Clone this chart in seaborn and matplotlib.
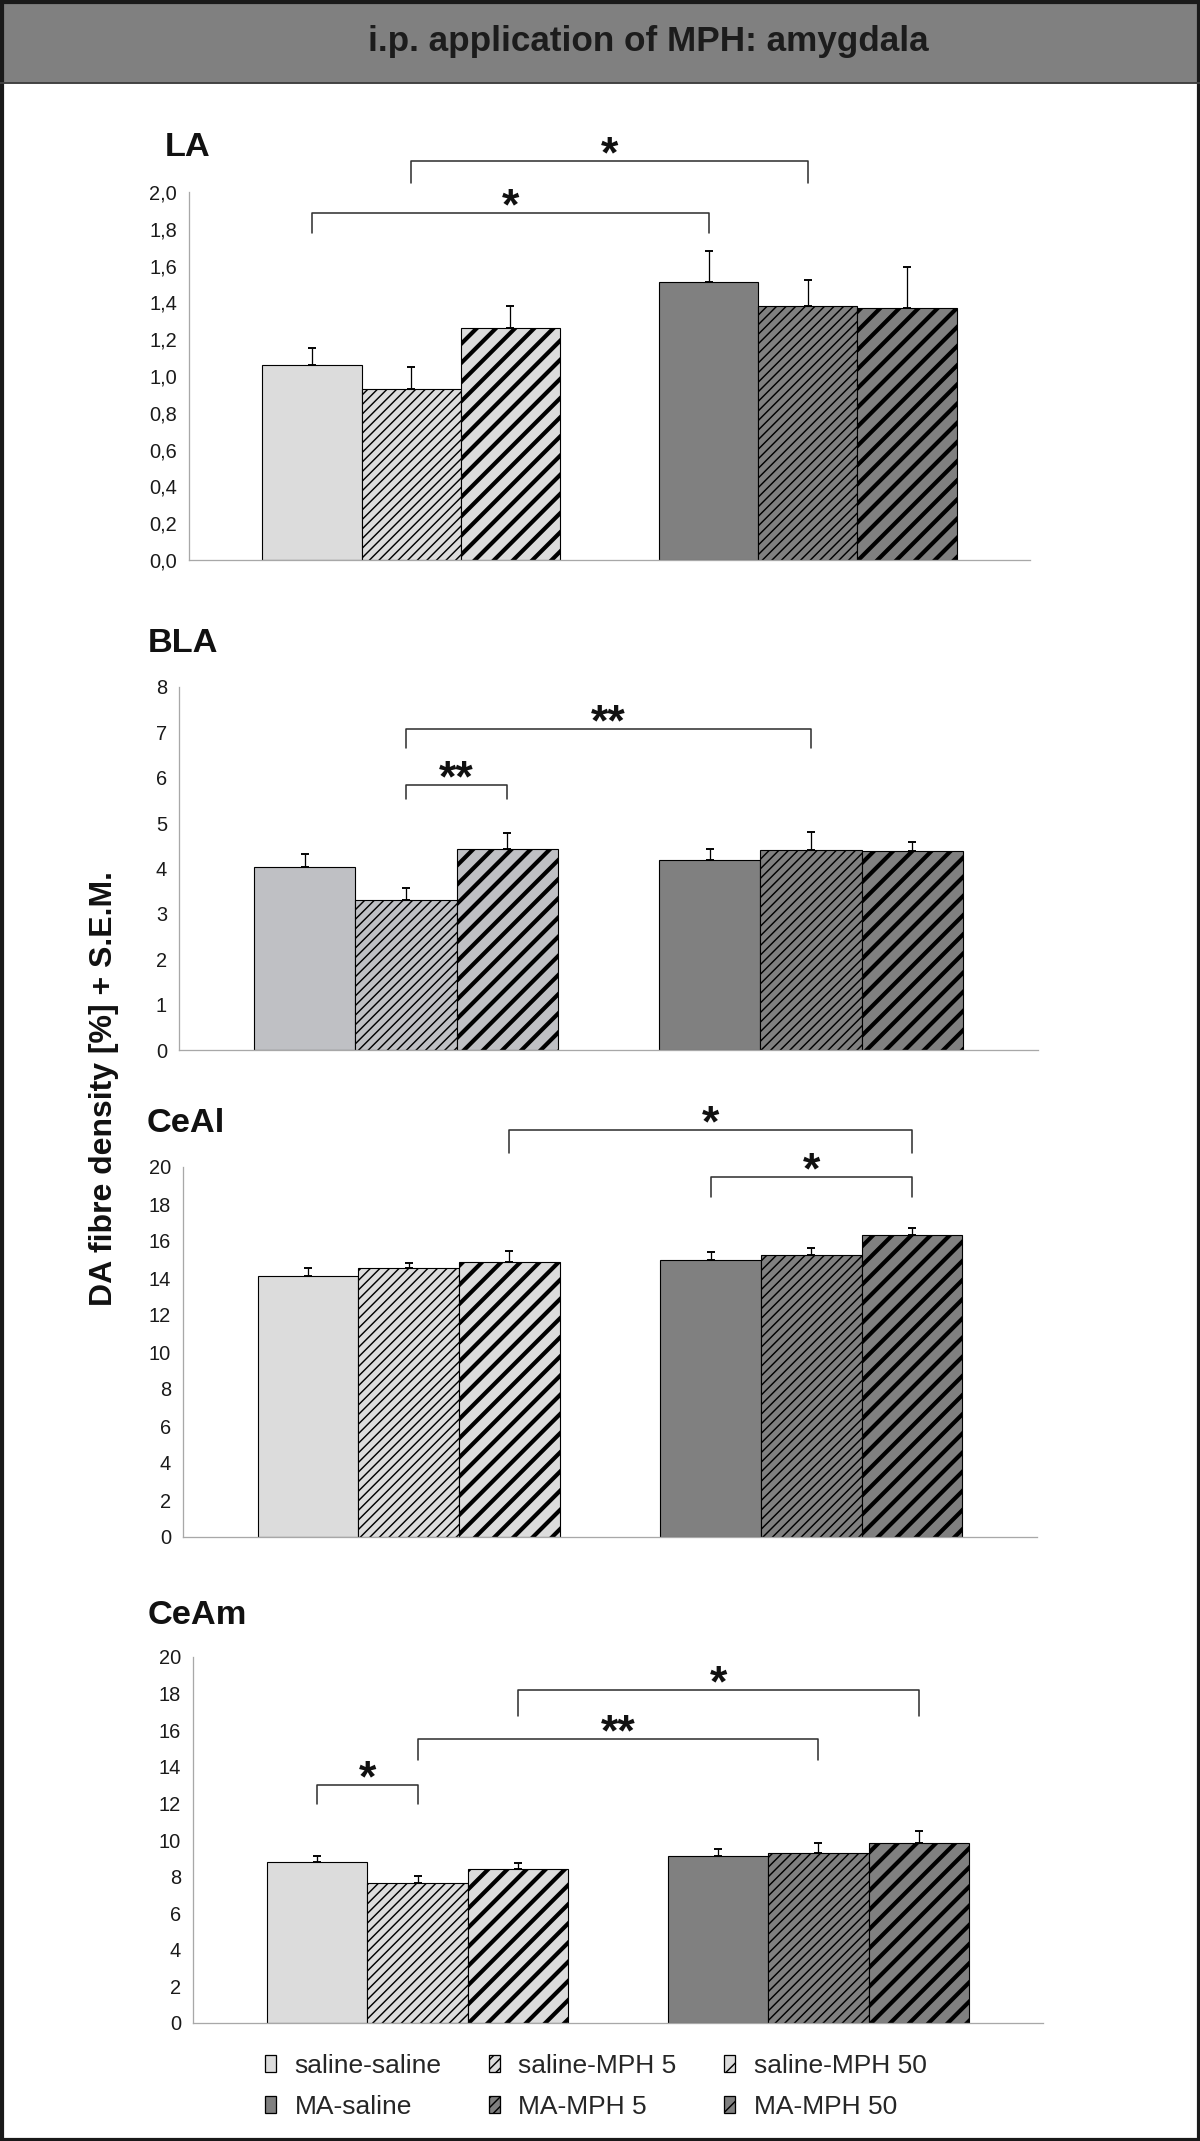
import numpy as np
import pandas as pd
import matplotlib
matplotlib.use('Agg')
import matplotlib.pyplot as plt
from matplotlib.patches import Patch, Rectangle
from matplotlib.lines import Line2D
import seaborn as sns

DPI = 115
W, H = 1200, 2141

# groups and legend
pretreat = ['saline', 'MA']
doses = ['saline', 'MPH 5', 'MPH 50']
legend_labels = ['saline-saline', 'saline-MPH 5', 'saline-MPH 50',
                 'MA-saline', 'MA-MPH 5', 'MA-MPH 50']

# bar order: saline-saline, saline-MPH 5, saline-MPH 50, MA-saline, MA-MPH 5, MA-MPH 50
la_mean = [1.06, 0.93, 1.26, 1.51, 1.38, 1.37]
la_sem = [0.09, 0.12, 0.12, 0.17, 0.14, 0.22]
bla_mean = [4.04, 3.30, 4.44, 4.18, 4.41, 4.38]
bla_sem = [0.27, 0.27, 0.35, 0.26, 0.40, 0.21]
ceal_mean = [14.13, 14.53, 14.87, 14.96, 15.22, 16.30]
ceal_sem = [0.42, 0.27, 0.58, 0.42, 0.39, 0.40]
ceam_mean = [8.82, 7.65, 8.40, 9.15, 9.31, 9.82]
ceam_sem = [0.33, 0.36, 0.33, 0.34, 0.50, 0.67]

la_ticks = [0.0, 0.2, 0.4, 0.6, 0.8, 1.0, 1.2, 1.4, 1.6, 1.8, 2.0]
la_ticklabels = ['0,0', '0,2', '0,4', '0,6', '0,8', '1,0', '1,2', '1,4', '1,6', '1,8', '2,0']
bla_ticks = [0, 1, 2, 3, 4, 5, 6, 7, 8]
ce_ticks = [0, 2, 4, 6, 8, 10, 12, 14, 16, 18, 20]

# significance brackets: (bar a, bar b, bracket level, leg end, stars)
la_sig = [(0, 3, 1.887, 1.779, '*'), (1, 4, 2.167, 2.047, '*')]
bla_sig = [(1, 2, 5.85, 5.54, '**'), (1, 4, 7.07, 6.66, '**')]
ceal_sig = [(3, 5, 19.46, 18.4, '*'), (2, 5, 21.99, 20.76, '*')]
ceam_sig = [(0, 1, 13.0, 11.95, '*'), (1, 4, 15.53, 14.36, '**'), (2, 5, 18.2, 16.8, '*')]

light = '#dcdcdc'
light_bla = '#bfc0c4'
dark = '#808080'
hatches = ['', '////', '//']
hatch_lw = [0.9, 0.9, 2.6]

sns.set_style('white')
plt.rcParams['font.family'] = ['Liberation Sans', 'DejaVu Sans']
plt.rcParams['hatch.linewidth'] = 0.9

fig = plt.figure(figsize=(W / DPI, H / DPI), dpi=DPI)


def px_rect(left, right, top, bottom):
    return [left / W, 1 - bottom / H, (right - left) / W, (bottom - top) / H]


def draw_panel(ax, mean, sem, ticks, ticklabels, sig, fill_light):
    df = pd.DataFrame({'pre': np.repeat(pretreat, 3), 'dose': doses * 2, 'value': mean})
    sns.barplot(data=df, x='pre', y='value', hue='dose', order=pretreat, hue_order=doses,
                errorbar=None, width=0.75, gap=0, legend=False, ax=ax)
    bars = sorted(ax.patches, key=lambda p: p.get_x())
    centers, tops = [], []
    for i, bar in enumerate(bars):
        g, h = divmod(i, 3)
        bar.set_facecolor(fill_light if g == 0 else dark)
        bar.set_edgecolor('black')
        bar.set_linewidth(0.7)
        bar.set_hatch(hatches[h])
        if hasattr(bar, 'set_hatch_linewidth'):
            bar.set_hatch_linewidth(hatch_lw[h])
        centers.append(bar.get_x() + bar.get_width() / 2)
        tops.append(bar.get_height())
    ax.errorbar(centers, tops, yerr=[np.zeros(len(sem)), sem], fmt='none',
                ecolor='black', elinewidth=0.8, capsize=2.4, capthick=1.2, zorder=5)

    for a, b, level, leg, stars in sig:
        xa, xb = centers[a], centers[b]
        ax.add_line(Line2D([xa, xa, xb, xb], [leg, level, level, leg],
                           color='#333333', lw=1.0, clip_on=False))
        ax.annotate(stars, xy=((xa + xb) / 2, level), xytext=(0, -4),
                    textcoords='offset points', ha='center', va='baseline',
                    fontsize=28, fontweight='bold', color='#111111',
                    annotation_clip=False)

    ax.set_xlim(-0.56, 1.56)
    ax.set_ylim(ticks[0], ticks[-1])
    ax.set_yticks(ticks)
    ax.set_yticklabels(ticklabels)
    ax.set_xticks([1.5599])
    ax.set_xticklabels([''])
    ax.set_xlabel('')
    ax.set_ylabel('')
    sns.despine(ax=ax)
    for s in ['left', 'bottom']:
        ax.spines[s].set_color('#a8a8a8')
        ax.spines[s].set_linewidth(0.8)
    ax.tick_params(axis='y', length=4, width=0.8, color='#a8a8a8',
                   labelsize=12.5, labelcolor='#1a1a1a', pad=3.5)
    ax.tick_params(axis='x', length=4, width=0.8, color='#a8a8a8')


panels = [
    ('LA', la_mean, la_sem, la_ticks, la_ticklabels, la_sig, light),
    ('BLA', bla_mean, bla_sem, bla_ticks, [str(t) for t in bla_ticks], bla_sig, light_bla),
    ('CeAl', ceal_mean, ceal_sem, ce_ticks, [str(t) for t in ce_ticks], ceal_sig, light),
    ('CeAm', ceam_mean, ceam_sem, ce_ticks, [str(t) for t in ce_ticks], ceam_sig, light),
]
# axes boxes in pixels: left, right, top, bottom; label position
boxes = [(189, 1030, 192, 560), (179, 1038, 687, 1050),
         (183, 1037, 1167, 1537), (193, 1043, 1657, 2023)]
label_pos = [(165, 147), (148, 643), (147, 1124), (148, 1616)]

for (name, mean, sem, ticks, tl, sig, fl), box, lp in zip(panels, boxes, label_pos):
    ax = fig.add_axes(px_rect(*box))
    draw_panel(ax, mean, sem, ticks, tl, sig, fl)
    fig.text(lp[0] / W, 1 - lp[1] / H, name, fontsize=21.5, fontweight='bold',
             ha='left', va='center', color='#111111')

# title bar
fig.add_artist(Rectangle((0, 1 - 83 / H), 1, 83 / H, transform=fig.transFigure,
                         facecolor='#808080', edgecolor='none', zorder=0))
fig.add_artist(Line2D([0, 1], [1 - 83 / H] * 2, transform=fig.transFigure,
                      color='#404040', lw=1.2))
fig.text(648 / W, 1 - 42 / H, 'i.p. application of MPH: amygdala', fontsize=22,
         fontweight='bold', ha='center', va='center', color='#1c1c1c')

# shared y label
fig.text(104 / W, 1 - 1088 / H, 'DA fibre density [%] + S.E.M.', rotation=90,
         fontsize=20, fontweight='bold', ha='center', va='center', color='#111111')

# legend
fills = [light, light, light, dark, dark, dark]
handles = []
for i, lab in enumerate(legend_labels):
    handles.append(Patch(facecolor=fills[i], edgecolor='black', linewidth=0.8,
                         hatch=hatches[i % 3]))
order = [0, 3, 1, 4, 2, 5]
fig.legend([handles[i] for i in order], [legend_labels[i] for i in order], ncol=3,
           loc='upper left', bbox_to_anchor=(265 / W, 1 - 2054 / H), frameon=False,
           fontsize=16.5, handlelength=0.42, handleheight=0.62, handletextpad=0.7,
           columnspacing=1.8, labelspacing=0.65, borderpad=0, borderaxespad=0)

# outer frame
fig.add_artist(Rectangle((0, 0), 1, 1, transform=fig.transFigure, fill=False,
                         edgecolor='#1a1a1a', linewidth=4.5))

fig.savefig('out.png', dpi=DPI)
